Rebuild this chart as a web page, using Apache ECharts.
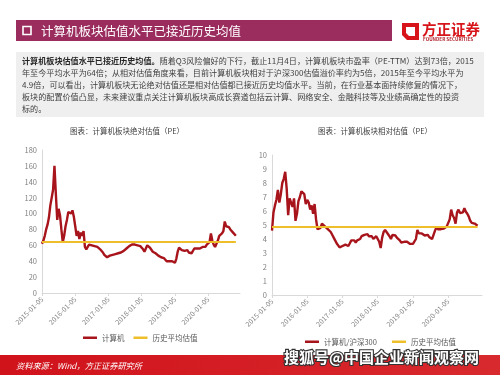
<!DOCTYPE html>
<html><head><meta charset="utf-8">
<script src="https://cdn.jsdelivr.net/npm/echarts@6/dist/echarts.min.js"></script>
<style>html,body{margin:0;padding:0;background:#fff}#c{width:500px;height:375px}</style>
</head><body><div id="c"></div>
<script>
// ---- data ----
const tickLabels = ['2015-01-05','2016-01-05','2017-01-05','2018-01-05','2019-01-05','2020-01-05'];
const absPE = [62,66,72,80,86,95,110,112,130,160,125,92,106,98,80,64,72,84,92,102,104,100,104,96,
  84,72,78,68,76,72,78,58,55,58,61,62,60,60,59,60,58,57,55,53,51,48,46,45,
  45,47,47,48,47,49,48,50,49,51,50,53,54,56,57,59,60,61,60,61,59,60,58,59,
  57,55,52,56,60,59,57,55,52,50,50,48,47,46,45,46,44,42,40,39,40,39,40,38,
  38,43,52,57,56,54,55,53,52,54,51,52,50,51,56,58,56,57,56,57,58,59,58,61,
  62,64,75,66,61,58,57,66,72,73,75,78,90,84,82,83,80,79,76,75,72];
const relPE = [4.6,5.9,6.4,6.8,7.5,6.6,7.2,8.0,8.3,8.8,7.6,5.7,6.9,7.0,6.3,6.9,5.3,5.8,6.7,7.0,7.4,7.5,7.2,6.5,
  6.8,6.6,6.1,6.4,5.8,6.5,5.4,4.7,4.6,4.8,5.1,5.1,4.9,4.8,4.7,4.6,4.5,4.3,4.1,3.9,3.7,3.6,3.4,3.4,
  3.5,3.5,3.6,3.5,3.5,3.7,3.9,3.8,3.9,3.75,3.9,3.85,4.0,4.2,4.3,4.3,4.25,4.35,4.2,4.3,4.2,4.0,4.05,4.2,
  4.1,3.8,3.35,4.1,4.5,4.65,4.5,4.4,4.2,4.0,4.3,4.2,4.25,4.1,4.05,3.9,3.75,3.7,3.8,3.7,3.8,3.7,3.65,3.7,
  3.65,3.6,4.0,4.65,4.4,4.3,4.4,4.3,4.25,4.2,4.3,4.15,4.1,4.0,4.3,4.6,4.85,4.7,4.75,4.7,4.8,4.75,4.85,4.9,
  5.0,5.4,6.1,5.7,5.5,5.1,5.9,6.1,5.85,5.95,5.9,6.2,5.95,5.8,5.6,5.3,5.15,5.2,5.1,5.0,4.95];
const absAvg = 64;
const relAvg = 4.9;
const leftNames = ['计算机','历史平均估值'];
const rightNames = ['计算机/沪深300','历史平均估值'];

// semimonthly category dates (05 and 20 of each month), 2015-01-05 .. 2020-12-20
const dates = [];
for (let y = 2015; y <= 2020; y++) {
  for (let m = 1; m <= 12; m++) {
    const mm = (m < 10 ? '0' : '') + m;
    dates.push(y + '-' + mm + '-05');
    dates.push(y + '-' + mm + '-20');
  }
}

const FONT = '"Noto Sans CJK SC", "Noto Sans", sans-serif';
const RED = '#A8141B';
const YEL = '#EEBE2B';
const axisGray = '#D9D9D9';
const labGray = '#7F7F7F';
const showTick = (i, v) => tickLabels.indexOf(v) >= 0;

function xAxisCfg(gi) {
  return {
    type: 'category', gridIndex: gi, data: dates, boundaryGap: false,
    axisLine: {lineStyle: {color: axisGray, width: 1}},
    axisTick: {show: true, interval: showTick, length: 3, lineStyle: {color: axisGray}},
    axisLabel: {interval: showTick, rotate: 45, fontSize: 7, color: labGray, fontFamily: FONT, margin: 5},
    splitLine: {show: false}
  };
}
function yAxisCfg(gi, max, interval) {
  return {
    type: 'value', gridIndex: gi, min: 0, max: max, interval: interval,
    axisLine: {show: true, lineStyle: {color: axisGray}},
    axisTick: {show: false},
    axisLabel: {fontSize: 7.5, color: labGray, fontFamily: FONT, margin: 5},
    splitLine: {show: false}
  };
}
function avgSeries(name, xi, yi, avg, n) {
  return {
    name: name, type: 'line', xAxisIndex: xi, yAxisIndex: yi, data: [],
    color: YEL, lineStyle: {color: YEL, width: 2}, showSymbol: false,
    markLine: {silent: true, symbol: 'none', label: {show: false},
      lineStyle: {color: YEL, width: 2, type: 'solid'},
      data: [[{coord: [dates[0], avg]}, {coord: [dates[n - 1], avg]}]]}
  };
}

const bodyLines = [
  '{b|计算机板块估值水平已接近历史均值。}{n|随着Q3风险偏好的下行，截止11月4日，计算机板块市盈率（PE-TTM）达到73倍，2015}',
  '{n|年至今平均水平为64倍；从相对估值角度来看，目前计算机板块相对于沪深300估值溢价率约为5倍，2015年至今平均水平为}',
  '{n|4.9倍，可以看出，计算机板块无论绝对估值还是相对估值都已接近历史均值水平。当前，在行业基本面持续修复的情况下，}',
  '{n|板块的配置价值凸显，未来建议重点关注计算机板块高成长赛道包括云计算、网络安全、金融科技等及业绩高确定性的投资}',
  '{n|标的。}'
];
const BODY_FS = 8.1;

const graphics = [
  // title bar
  {type: 'rect', shape: {x: 16, y: 20, width: 376, height: 21}, style: {fill: '#9A2D5E'}},
  {type: 'rect', shape: {x: 23, y: 26.5, width: 8, height: 8}, style: {fill: 'none', stroke: '#fff', lineWidth: 1.6}},
  {type: 'text', style: {text: '计算机板块估值水平已接近历史均值', x: 41, y: 31, fill: '#fff',
    font: '12.5px ' + FONT, textVerticalAlign: 'middle'}},
  // logo
  {type: 'polygon', shape: {points: [[402,23],[419,23],[419,40],[407,40],[402,35]]}, style: {fill: '#D7141A'}},
  {type: 'polygon', shape: {points: [[406,27],[415,27],[415,36],[409,36],[406,33]]}, style: {fill: '#fff'}},
  {type: 'text', style: {text: '方正证券', x: 422, y: 22, fill: '#D7141A', font: 'bold 14.5px ' + FONT}},
  {type: 'text', style: {text: 'FOUNDER SECURITIES', x: 423, y: 36.5, fill: '#B0222A', font: 'bold 4.6px ' + FONT}},
  // text box
  {type: 'rect', shape: {x: 16, y: 52, width: 468, height: 65}, style: {fill: '#EFEFEF'}},
  // chart titles
  {type: 'text', style: {text: '图表：计算机板块绝对估值（PE）', x: 127, y: 131, fill: '#404040',
    font: '7.5px ' + FONT, textAlign: 'center', textVerticalAlign: 'middle'}},
  {type: 'text', style: {text: '图表：计算机板块相对估值（PE）', x: 375, y: 131, fill: '#404040',
    font: '7.5px ' + FONT, textAlign: 'center', textVerticalAlign: 'middle'}},
  // footer
  {type: 'rect', shape: {x: 0, y: 355, width: 500, height: 20},
    style: {fill: new echarts.graphic.LinearGradient(0, 0, 1, 0, [{offset: 0, color: '#D0121B'}, {offset: 1, color: '#D82A2E'}])}},
  {type: 'text', style: {text: '资料来源：Wind，方正证券研究所', x: 16, y: 366, fill: '#fff',
    font: 'italic 8.2px ' + FONT, textVerticalAlign: 'middle'}},
  {type: 'text', z: 100, style: {text: '搜狐号@中国企业新闻观察网', x: 284, y: 357.5, fill: '#fff',
    font: 'bold 15px ' + FONT, textVerticalAlign: 'middle', stroke: '#333', lineWidth: 2.2,
    shadowColor: 'rgba(0,0,0,0.6)', shadowBlur: 2, shadowOffsetX: 1, shadowOffsetY: 1}}
];
bodyLines.forEach((t, i) => {
  graphics.push({type: 'text', style: {text: t, x: 22, y: 61 + i * 12, textVerticalAlign: 'middle',
    font: BODY_FS + 'px ' + FONT,
    rich: {b: {fontWeight: 'bold', fontSize: BODY_FS, fontFamily: FONT, fill: '#262626'},
           n: {fontSize: BODY_FS, fontFamily: FONT, fill: '#404040'}}}});
});

const chart = echarts.init(document.getElementById('c'), null, {renderer: 'canvas'});
chart.setOption({
  animation: false,
  backgroundColor: '#fff',
  textStyle: {fontFamily: FONT},
  grid: [
    {left: 42, top: 150, width: 198, height: 143},
    {left: 272, top: 155, width: 210, height: 140}
  ],
  xAxis: [xAxisCfg(0), xAxisCfg(1)],
  yAxis: [yAxisCfg(0, 180, 20), yAxisCfg(1, 10, 1)],
  legend: [
    {data: leftNames, left: 78, top: 329, icon: 'rect', itemWidth: 14, itemHeight: 2.5, itemGap: 9,
      textStyle: {fontSize: 7.5, color: '#595959', fontFamily: FONT}, selectedMode: false},
    {data: rightNames, left: 300, top: 333, icon: 'rect', itemWidth: 14, itemHeight: 2.5, itemGap: 15,
      textStyle: {fontSize: 7.5, color: '#595959', fontFamily: FONT}, selectedMode: false}
  ],
  series: [
    {name: leftNames[0], type: 'line', xAxisIndex: 0, yAxisIndex: 0, data: absPE, showSymbol: false,
      color: RED, lineStyle: {color: RED, width: 2.4}, z: 3},
    avgSeries(leftNames[1], 0, 0, absAvg, absPE.length),
    {name: rightNames[0], type: 'line', xAxisIndex: 1, yAxisIndex: 1, data: relPE, showSymbol: false,
      color: RED, lineStyle: {color: RED, width: 2.4}, z: 3},
    avgSeries(rightNames[1], 1, 1, relAvg, relPE.length)
  ],
  graphic: {elements: graphics}
});
</script>
</body></html>
